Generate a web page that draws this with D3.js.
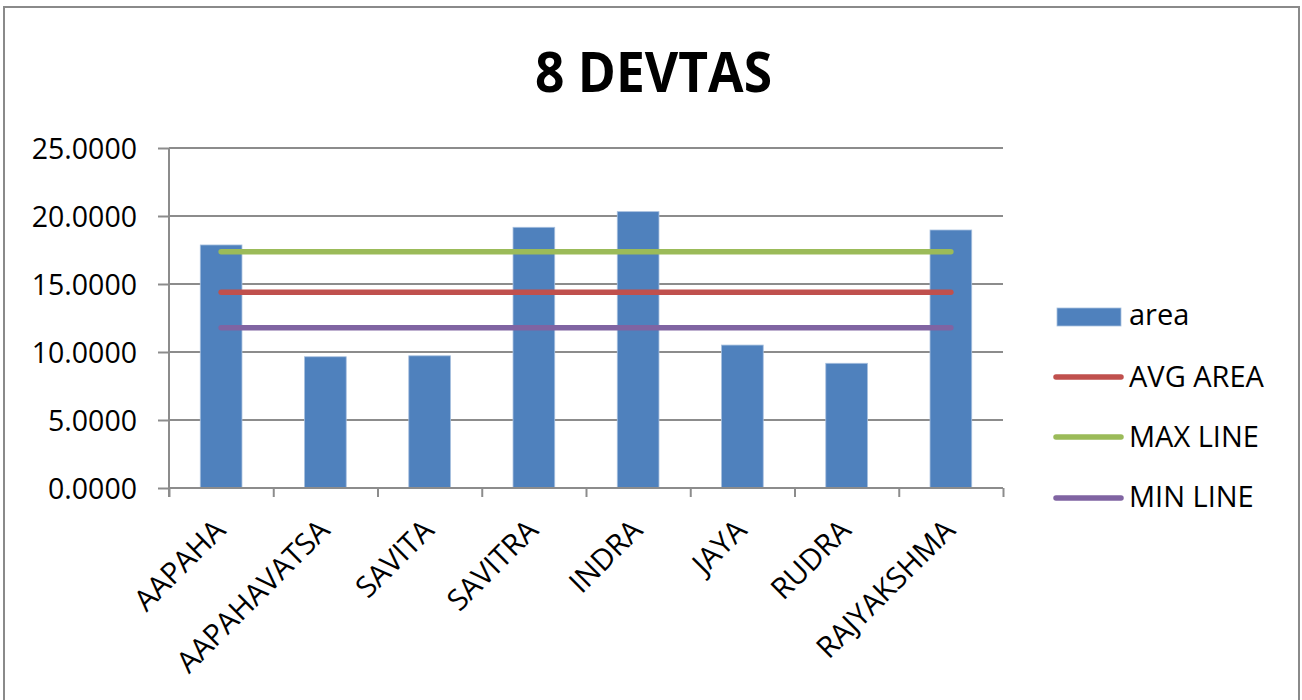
<!DOCTYPE html>
<html>
<head>
<meta charset="utf-8">
<script src="https://cdn.jsdelivr.net/npm/d3@7"></script>
<style>
html,body{margin:0;padding:0;background:#fff;}
svg{display:block;}
</style>
</head>
<body>
<svg id="chart" width="1302" height="700"></svg>
<script>
const title = "8 DEVTAS";
const categories = ["AAPAHA","AAPAHAVATSA","SAVITA","SAVITRA","INDRA","JAYA","RUDRA","RAJYAKSHMA"];
const area     = [17.87, 9.65, 9.72, 19.17, 20.32, 10.51, 9.17, 18.97];
const avgArea  = [14.39, 14.39, 14.39, 14.39, 14.39, 14.39, 14.39, 14.39];
const maxLine  = [17.37, 17.37, 17.37, 17.37, 17.37, 17.37, 17.37, 17.37];
const minLine  = [11.79, 11.79, 11.79, 11.79, 11.79, 11.79, 11.79, 11.79];
const yTicks   = [0, 5, 10, 15, 20, 25];
const seriesNames = ["area", "AVG AREA", "MAX LINE", "MIN LINE"];
const colors = {bar:"#4F81BD", avg:"#C0504D", max:"#9BBB59", min:"#8064A2"};

const svg = d3.select("#chart");
const FONT = "'Open Sans', 'Liberation Sans', sans-serif";
const grid = "#8C8C8C";

// outer frame
svg.append("rect").attr("x",4).attr("y",7).attr("width",1295).attr("height",720)
  .attr("fill","none").attr("stroke","#8A8A8A").attr("stroke-width",2);

// title
svg.append("text").attr("x",653.5).attr("y",92).attr("text-anchor","middle")
  .attr("font-family",FONT).attr("font-weight",700).attr("font-size",56)
  .attr("textLength",237).attr("lengthAdjust","spacingAndGlyphs")
  .attr("fill","#000").text(title);

const L = 169, R = 1003, T = 148, B = 488;
const y = d3.scaleLinear().domain([0,25]).range([B,T]);
const x = d3.scaleBand().domain(categories).range([L,R]).paddingInner(0.6).paddingOuter(0.3);
const xb = d3.scaleLinear().domain([0,categories.length]).range([L,R]);

// gridlines
svg.append("g").selectAll("line").data(yTicks.filter(d=>d>0)).join("line")
  .attr("x1",L).attr("x2",R).attr("y1",d=>y(d)).attr("y2",d=>y(d))
  .attr("stroke",grid).attr("stroke-width",2);

// y axis
const yAxis = svg.append("g").attr("transform",`translate(${L},0)`)
  .call(d3.axisLeft(y).tickValues(yTicks).tickSize(11).tickPadding(21).tickFormat(d3.format(".4f")));
yAxis.select(".domain").attr("stroke",grid).attr("stroke-width",2)
  .attr("d",`M0,${T}V${B+9}`);
yAxis.selectAll(".tick line").attr("stroke",grid).attr("stroke-width",2);
yAxis.selectAll(".tick text").attr("font-family",FONT).attr("font-size",28.5).attr("fill","#000").attr("dy","0.36em");

// bars
svg.append("g").selectAll("rect").data(categories).join("rect")
  .attr("x",d=>x(d)).attr("width",x.bandwidth())
  .attr("y",(d,i)=>y(area[i])).attr("height",(d,i)=>B-y(area[i]))
  .attr("fill",colors.bar).attr("stroke","#A7C0DE").attr("stroke-width",0.8);

// x axis
const xAxis = svg.append("g").attr("transform",`translate(0,${B})`)
  .call(d3.axisBottom(xb).tickValues(d3.range(categories.length+1)).tickSize(9).tickFormat(""));
xAxis.select(".domain").attr("stroke",grid).attr("stroke-width",2).attr("d",`M${L},0H${R}`);
xAxis.selectAll(".tick line").attr("stroke",grid).attr("stroke-width",2);

// x labels
svg.append("g").selectAll("text").data(categories).join("text")
  .attr("transform",d=>`translate(${x(d)+x.bandwidth()/2+6},532) rotate(-45)`)
  .attr("text-anchor","end").attr("font-family",FONT).attr("font-size",29.5).attr("fill","#000")
  .text(d=>d);

// lines
const line = d3.line().x((d,i)=>x(categories[i])+x.bandwidth()/2).y(d=>y(d));
[[maxLine,colors.max],[avgArea,colors.avg],[minLine,colors.min]].forEach(([vals,c])=>{
  svg.append("path").datum(vals).attr("d",line).attr("fill","none")
    .attr("stroke",c).attr("stroke-width",5.5).attr("stroke-linecap","round");
});

// legend
const lg = svg.append("g");
lg.append("rect").attr("x",1057).attr("y",308).attr("width",64).attr("height",18)
  .attr("fill",colors.bar).attr("stroke","#A7C0DE").attr("stroke-width",0.8);
const legendLines = [[colors.avg,377],[colors.max,437],[colors.min,498]];
legendLines.forEach(([c,ly])=>{
  lg.append("line").attr("x1",1056).attr("x2",1121).attr("y1",ly).attr("y2",ly)
    .attr("stroke",c).attr("stroke-width",5.5).attr("stroke-linecap","round");
});
const labelY = [325, 387, 447, 507];
lg.selectAll("text.lab").data(seriesNames).join("text").attr("class","lab")
  .attr("x",1129).attr("y",(d,i)=>labelY[i])
  .attr("font-family",FONT).attr("font-size",29).attr("fill","#000").text(d=>d);
</script>
</body>
</html>
